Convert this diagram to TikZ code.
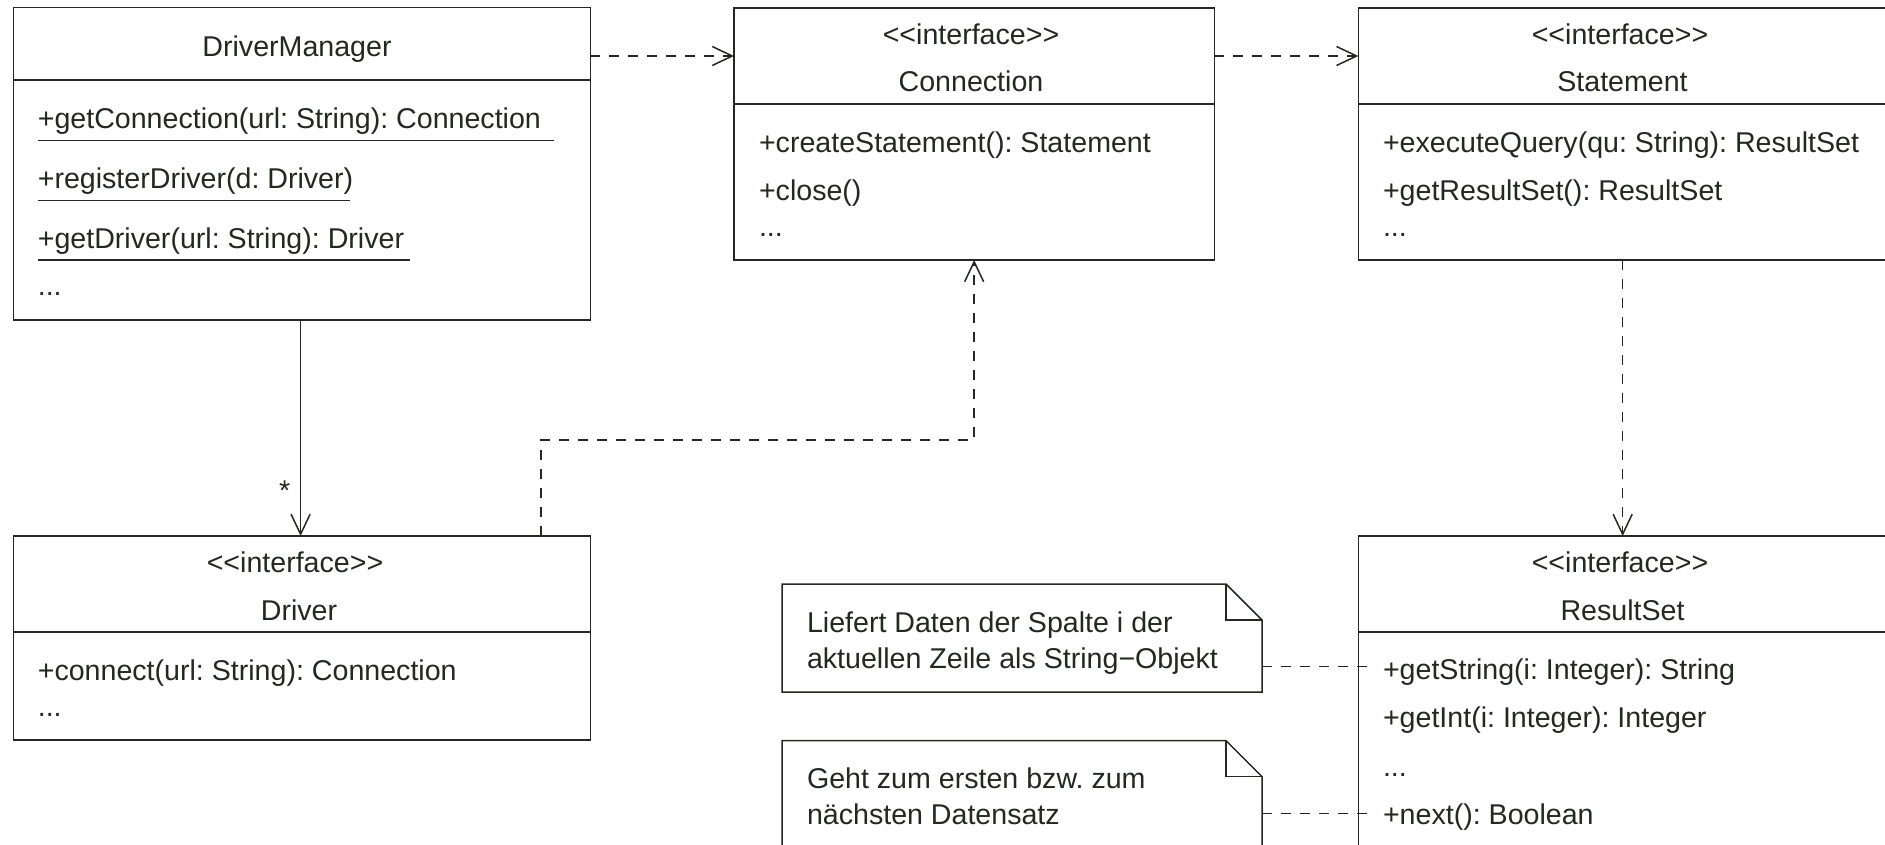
\documentclass[tikz,border=0pt]{standalone}
\usepackage{fontspec}
\setmainfont{Liberation Sans}
\usetikzlibrary{arrows.meta,calc}
\definecolor{ink}{RGB}{35,40,35}
\frenchspacing
\begin{document}
\begin{tikzpicture}[x=1pt,y=-1pt,
  every node/.style={inner sep=0pt,outer sep=0pt},
  txt/.style={font=\fontsize{28.6}{34}\selectfont\frenchspacing,text=ink},
  lft/.style={txt,anchor=base west},
  ctr/.style={txt,anchor=base},
  boxshape/.style={draw=ink,line width=1.5pt,anchor=north west,rectangle},
  noteshape/.style={anchor=north west,rectangle},
  frame/.style={draw=ink,line width=1.5pt},
  dep/.style={draw=ink,line width=1.5pt,dash pattern=on 10pt off 9pt,-{Straight Barb[length=20pt,width=19pt]}},
  assoc/.style={draw=ink,line width=1.5pt,-{Straight Barb[length=20pt,width=19pt]}},
  anchorline/.style={draw=ink,line width=1.5pt,dash pattern=on 10pt off 9pt},
]
\useasboundingbox (0,0) rectangle (1885,845);
\fill[white] (0,0) rectangle (1885,845);
\clip (0,0) rectangle (1885,845);

% class boxes
\node[boxshape,minimum width=576.8,minimum height=312.5] (dm) at (13.6,7.5) {};
\node[boxshape,minimum width=480.3,minimum height=252] (conn) at (734,8) {};
\node[boxshape,minimum width=528.7,minimum height=252] (stmt) at (1358.3,8) {};
\node[boxshape,minimum width=576.8,minimum height=204] (drv) at (13.6,536) {};
\node[boxshape,minimum width=528.7,minimum height=400] (rs) at (1358.3,536) {};

\draw[frame] (dm.west |- 0,80) -- (dm.east |- 0,80);
\draw[frame] (conn.west |- 0,104) -- (conn.east |- 0,104);
\draw[frame] (stmt.west |- 0,104) -- (stmt.east |- 0,104);
\draw[frame] (drv.west |- 0,632) -- (drv.east |- 0,632);
\draw[frame] (rs.west |- 0,632) -- (rs.east |- 0,632);

% notes
\node[noteshape,minimum width=480,minimum height=108] (n1) at (782,584) {};
\node[noteshape,minimum width=480,minimum height=200] (n2) at (782,740.6) {};
\foreach \n in {n1,n2}{
  \draw[frame] (\n.north west) -- ($(\n.north east)+(-36,0)$) -- ($(\n.north east)+(0,36)$)
     -- (\n.south east) -- (\n.south west) -- cycle;
  \draw[frame] ($(\n.north east)+(-36,0)$) -- ($(\n.north east)+(-36,36)$) -- ($(\n.north east)+(0,36)$);
}

% DriverManager
\node[ctr] (dmT) at (297,57) {DriverManager};
\node[lft] (dm1) at (37.8,129) {+getConnection(url: String): Connection};
\node[lft] (dm2) at (37.8,189) {+registerDriver(d: Driver)};
\node[lft] (dm3) at (37.8,248.5) {+getDriver(url: String): Driver};
\node[lft] (dm4) at (37.8,295.5) {...};
\draw[frame] (dm1.base west) ++(0,11.5) -- ++(516.2,0);
\draw[frame] (dm2.base west) ++(0,11.5) -- ++(312.2,0);
\draw[frame] (dm3.base west) ++(0,11.5) -- ++(371.8,0);

% Connection
\node[ctr] (connS) at (971,44.8) {<{}<interface>{}>};
\node[ctr] (connT) at (971,92) {Connection};
\node[lft] (conn1) at (759,152.5) {+createStatement(): Statement};
\node[lft] (conn2) at (759,200.2) {+close()};
\node[lft] (conn3) at (759,236.5) {...};

% Statement
\node[ctr] (stmtS) at (1620,44.8) {<{}<interface>{}>};
\node[ctr] (stmtT) at (1622.5,92) {Statement};
\node[lft] (stmt1) at (1383,152.5) {+executeQuery(qu: String): ResultSet};
\node[lft] (stmt2) at (1383,200.2) {+getResultSet(): ResultSet};
\node[lft] (stmt3) at (1383,236.5) {...};

% Driver
\node[ctr] (drvS) at (295,572.5) {<{}<interface>{}>};
\node[ctr] (drvT) at (299,620) {Driver};
\node[lft] (drv1) at (37.8,680) {+connect(url: String): Connection};
\node[lft] (drv2) at (37.8,716.5) {...};

% ResultSet
\node[ctr] (rsS) at (1620,572.5) {<{}<interface>{}>};
\node[ctr] (rsT) at (1622.5,620) {ResultSet};
\node[lft] (rs1) at (1383,679.5) {+getString(i: Integer): String};
\node[lft] (rs2) at (1383,727.3) {+getInt(i: Integer): Integer};
\node[lft] (rs3) at (1383,776) {...};
\node[lft] (rs4) at (1383,824.5) {+next(): Boolean};

% note texts
\node[lft] (n1a) at (807,632.3) {Liefert Daten der Spalte i der};
\node[lft] (n1b) at (807,668.4) {aktuellen Zeile als String−Objekt};
\node[lft] (n2a) at (807,788.5) {Geht zum ersten bzw. zum};
\node[lft] (n2b) at (807,824.3) {nächsten Datensatz};

% connectors
\draw[dep] (dm.east |- 0,56) -- (conn.west |- 0,56);
\draw[dep] (conn.east |- 0,56) -- (stmt.west |- 0,56);
\draw[dep] (stmt.south) -- (rs.north);
\draw[dep] (drv.north -| 541,0) -- ++(0,-96) -| (conn.south);
\draw[assoc] (dm.south -| 300.6,0) -- (drv.north -| 300.6,0);
\node[ctr] (mult) at (284.7,500) {*};
\draw[anchorline] (n1.east |- 0,666.7) -- ($(rs.west |- 0,666.7)+(14,0)$);
\draw[anchorline] (n2.east |- 0,813.3) -- ($(rs.west |- 0,813.3)+(14,0)$);
\end{tikzpicture}
\end{document}
